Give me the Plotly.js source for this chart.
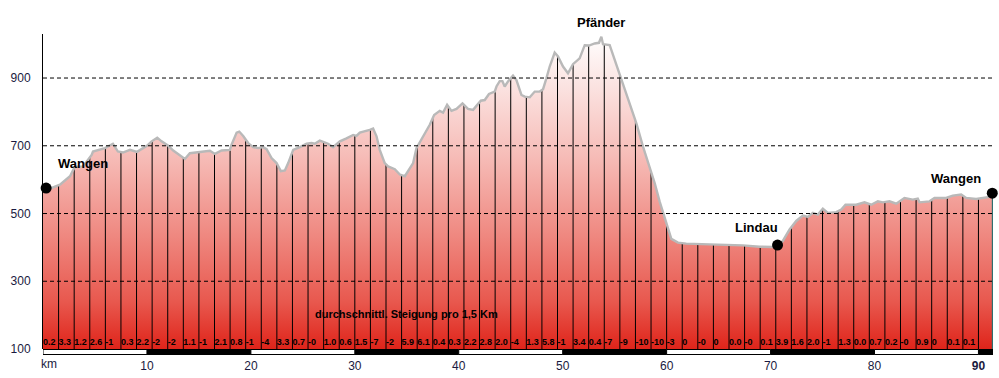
<!DOCTYPE html>
<html>
<head>
<meta charset="utf-8">
<script src="https://cdn.plot.ly/plotly-3.0.1.min.js"></script>
<style>html,body{margin:0;padding:0;background:#fff;}#chart{width:999px;height:378px;}</style>
</head>
<body>
<div id="chart"></div>
<script>
// ---- data ----
const profileKm = [0, 0.36, 1.63, 2.6, 2.91, 3.08, 3.85, 4.68, 4.81, 5.96,
  6.73, 7.21, 7.69, 8.37, 9.04, 10.0, 10.45, 10.99, 11.41, 12.05,
  12.53, 13.65, 14.13, 15.1, 16.06, 16.54, 17.18, 17.98, 18.14, 18.63,
  18.88, 19.26, 19.74, 20.22, 20.7, 21.18, 21.51, 21.99, 22.47, 22.88,
  23.27, 23.59, 24.07, 24.71, 25.36, 25.84, 26.15, 26.63, 27.12, 27.43,
  27.91, 28.56, 29.2, 29.84, 30.16, 30.48, 31.44, 31.76, 32.09, 32.4,
  32.88, 33.2, 33.85, 34.33, 34.81, 35.61, 35.93, 36.73, 37.21, 37.63,
  38.17, 38.49, 38.88, 39.3, 39.78, 40.36, 40.89, 41.38, 42.12, 42.5,
  42.91, 43.46, 43.63, 43.94, 44.2, 44.42, 44.74, 45.22, 45.55, 46.03,
  46.35, 46.83, 47.31, 47.79, 48.11, 48.43, 48.59, 48.75, 49.23, 49.55,
  50.03, 50.51, 50.99, 51.63, 52.12, 52.53, 53.08, 53.49, 53.72, 53.88,
  54.52, 55.0, 55.64, 56.44, 57.09, 57.72, 58.37, 58.85, 59.33, 59.81,
  60.13, 60.45, 61.09, 61.89, 64.13, 67.34, 68.94, 70.22, 70.7, 71.18,
  71.83, 72.47, 73.11, 73.59, 74.07, 74.55, 75.03, 75.51, 76.32, 76.8,
  77.21, 78.24, 79.04, 79.68, 80.32, 80.8, 81.44, 82.09, 82.88, 83.68,
  84.16, 84.33, 85.29, 85.77, 86.89, 87.53, 88.34, 88.82, 89.78, 90.41,
  91.06, 91.38];
const profileElev = [568, 570, 585, 610, 629, 638, 639, 673, 683, 693,
  706, 683, 680, 688, 682, 700, 713, 724, 713, 700,
  686, 661, 678, 682, 685, 676, 686, 688, 703, 739,
  742, 729, 708, 696, 693, 696, 690, 664, 649, 625,
  627, 649, 688, 696, 706, 708, 706, 715, 708, 706,
  696, 713, 722, 732, 729, 739, 747, 751, 728, 688,
  649, 639, 631, 615, 610, 649, 693, 737, 762, 791,
  803, 798, 821, 803, 809, 825, 809, 806, 833, 835,
  853, 860, 875, 891, 891, 875, 890, 907, 894, 850,
  845, 843, 860, 860, 867, 899, 919, 934, 975, 964,
  934, 914, 941, 958, 997, 996, 1002, 1004, 1022, 1000,
  997, 953, 894, 826, 766, 698, 639, 590, 535, 490,
  453, 425, 414, 411, 409, 406, 402, 401, 405, 419,
  453, 478, 494, 490, 502, 497, 514, 502, 504, 512,
  526, 526, 533, 526, 536, 533, 536, 529, 546, 541,
  544, 533, 536, 546, 546, 553, 556, 546, 543, 546,
  549, 555];

// average gradient per 1.5 km segment
const segmentLength = 1.5;
const gradients = ["0.2","3.3","1.2","2.6","-1","0.3","2.2","-2","-2","1.1",
  "-1","2.1","0.8","-1","-4","3.3","0.7","-0","1.0","0.6",
  "1.5","-7","-2","5.9","6.1","0.4","0.3","2.2","2.8","2.0",
  "-4","1.3","5.8","-1","3.4","0.4","-7","-9","-10","-10",
  "-3","0","-0","0","0.0","-0","0.1","3.9","1.6","2.0",
  "-1","1.3","0.0","0.7","0.2","-0","0.9","0","0.1","0.1"];

const placeNames = ["Wangen", "Pfänder", "Lindau", "Wangen"];
const placeKm    = [0.3, 53.72, 70.67, 91.33];
const placeElev  = [575, 1022, 407, 560];
const placeDot   = [true, false, true, true];

const xTickVals = [10, 20, 30, 40, 50, 60, 70, 80, 90];
const xTickText = ["10", "20", "30", "40", "50", "60", "70", "80", "<b>90</b>"];
const yTickVals = [100, 300, 500, 700, 900];
const totalKm = 91.4;
const yMin = 100, yMax = 1030;

// ---- traces ----
const font = "Arial, 'Liberation Sans', sans-serif";

const fillTrace = {
  x: profileKm, y: profileElev, type: 'scatter', mode: 'lines',
  line: {width: 0, color: 'rgba(0,0,0,0)'},
  fill: 'tozeroy',
  fillgradient: {type: 'vertical', start: yMin, stop: yMax,
    colorscale: [[0, 'rgb(223,36,26)'], [0.15, 'rgb(232,88,78)'], [0.36, 'rgb(239,136,128)'],
                 [0.6, 'rgb(246,186,181)'], [0.83, 'rgb(251,226,224)'], [1, 'rgb(255,255,255)']]},
  hoverinfo: 'skip', showlegend: false
};

const vx = [], vy = [];
for (let i = 1; i <= gradients.length; i++) {
  vx.push(i * segmentLength, i * segmentLength, null);
  vy.push(yMin, yMax, null);
}
const vLines = {x: vx, y: vy, type: 'scatter', mode: 'lines',
  line: {color: '#000', width: 1}, hoverinfo: 'skip', showlegend: false};

const endLine = {x: [totalKm - 0.04, totalKm - 0.04], y: [yMin, yMax], type: 'scatter', mode: 'lines',
  line: {color: '#2f6f6f', width: 1.5}, hoverinfo: 'skip', showlegend: false};

const topHelper = {x: [0, totalKm + 1], y: [yMax + 50, yMax + 50], type: 'scatter', mode: 'lines',
  line: {width: 0, color: 'rgba(0,0,0,0)'}, hoverinfo: 'skip', showlegend: false};

const maskTrace = {
  x: profileKm, y: profileElev, type: 'scatter', mode: 'lines',
  line: {color: '#b9b9b9', width: 2.4},
  fill: 'tonexty', fillcolor: '#ffffff',
  hoverinfo: 'skip', showlegend: false
};

const dotTrace = {
  x: placeKm.filter((_, i) => placeDot[i]),
  y: placeElev.filter((_, i) => placeDot[i]),
  type: 'scatter', mode: 'markers',
  marker: {color: '#000', size: 11},
  cliponaxis: false, hoverinfo: 'skip', showlegend: false
};

const gradTrace = {
  x: gradients.map((_, i) => i * segmentLength),
  y: gradients.map(() => 119),
  text: gradients.map(g => '<b>' + g + '</b>'), type: 'scatter', mode: 'text',
  textposition: 'middle right',
  textfont: {family: font, size: 9, color: '#000'},
  cliponaxis: false, hoverinfo: 'skip', showlegend: false
};

// ---- layout ----
const shapes = [];
yTickVals.slice(1).forEach(v => shapes.push({
  type: 'line', xref: 'paper', yref: 'y', x0: 0, x1: 1, y0: v, y1: v,
  line: {color: '#000', width: 1, dash: '4px,3px'}, layer: 'above'
}));
shapes.push({type: 'rect', xref: 'x', yref: 'paper', ysizemode: 'pixel', yanchor: 0,
  x0: 0, x1: totalKm, y0: -6, y1: 0, fillcolor: '#000', line: {width: 0}, layer: 'above'});
for (let k = 0; k * 10 < totalKm; k += 2) {
  shapes.push({type: 'rect', xref: 'x', yref: 'paper', ysizemode: 'pixel', yanchor: 0,
    x0: k * 10, x1: Math.min(k * 10 + 10, totalKm), y0: -5.5, y1: -0.5,
    fillcolor: '#fff', line: {width: 1, color: '#000'}, layer: 'above'});
}

const labelStyle = [
  {xanchor: 'left', xshift: 10, yshift: 25},
  {xanchor: 'center', xshift: 0, yshift: 14},
  {xanchor: 'right', xshift: 2, yshift: 18},
  {xanchor: 'right', xshift: -9, yshift: 15}
];
const annotations = placeNames.map((n, i) => Object.assign({
  x: placeKm[i], y: placeElev[i], xref: 'x', yref: 'y', text: '<b>' + n + '</b>',
  showarrow: false, yanchor: 'middle',
  font: {family: font, size: 13, color: '#000'}
}, labelStyle[i]));
annotations.push({x: 0, y: 0, xref: 'paper', yref: 'paper', xanchor: 'left', yanchor: 'middle',
  xshift: -4, yshift: -15, text: 'km', showarrow: false,
  font: {family: font, size: 12, color: '#1a1a40'}});
annotations.push({x: 35, y: 204, xref: 'x', yref: 'y', xanchor: 'center', yanchor: 'middle',
  text: '<b>durchschnittl. Steigung pro 1,5 Km</b>', showarrow: false,
  font: {family: font, size: 11, color: '#000'}});

const layout = {
  width: 999, height: 378,
  margin: {l: 43, r: 6, t: 34, b: 29, pad: 0},
  paper_bgcolor: '#fff', plot_bgcolor: '#fff',
  showlegend: false,
  xaxis: {range: [0, totalKm], tickvals: xTickVals, ticktext: xTickText,
    showgrid: false, zeroline: false, showline: false,
    ticks: 'outside', ticklen: 6, tickcolor: 'rgba(0,0,0,0)',
    tickfont: {family: font, size: 12, color: '#1a1a40'}, fixedrange: true},
  yaxis: {range: [yMin, yMax], tickvals: yTickVals,
    showgrid: false, zeroline: false, showline: true, linecolor: '#000', linewidth: 1,
    ticks: 'outside', ticklen: 9, tickcolor: 'rgba(0,0,0,0)',
    tickfont: {family: font, size: 12, color: '#1a1a40'}, fixedrange: true},
  shapes: shapes,
  annotations: annotations
};

Plotly.newPlot('chart', [fillTrace, vLines, endLine, topHelper, maskTrace, gradTrace, dotTrace], layout,
  {staticPlot: true, displayModeBar: false});
</script>
</body>
</html>
